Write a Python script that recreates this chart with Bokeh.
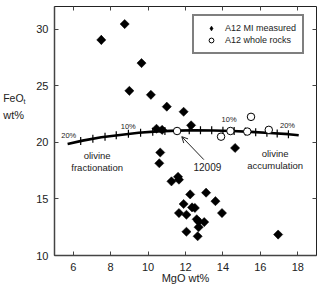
import math
from bokeh.plotting import figure
from bokeh.layouts import row
from bokeh.models import (Range1d, LinearAxis, FixedTicker, Label, Arrow, OpenHead,
                          Legend, LegendItem, ColumnDataSource)
from bokeh.core.properties import value
from bokeh.embed import file_html
from bokeh.resources import INLINE

FONT = "Liberation Sans"
INK = "#222222"

# Apollo 12 melt inclusions (measured)
mi_mgo = [7.5, 8.75, 9.65, 9.0, 10.15, 10.45, 11.0, 11.9, 12.3, 10.75, 10.65, 10.6,
          14.65, 11.25, 11.6, 11.65, 12.25, 13.1, 13.6, 11.9, 12.35, 12.5, 11.65,
          12.05, 13.95, 12.6, 12.7, 13.0, 12.7, 12.05, 12.65, 16.95]
mi_feo = [29.05, 30.45, 27.0, 24.55, 24.2, 21.2, 23.15, 22.7, 21.5, 21.1, 19.1, 18.15,
          19.5, 16.55, 16.95, 16.7, 15.4, 15.55, 14.8, 14.55, 14.25, 14.2, 13.75,
          13.6, 13.75, 13.2, 13.0, 12.95, 12.5, 12.1, 11.7, 11.85]

# Apollo 12 whole rocks (first one is 12009)
wr_mgo = [11.55, 13.9, 14.4, 15.3, 15.5, 16.45]
wr_feo = [21.0, 20.5, 21.0, 20.95, 22.25, 21.1]

# Olivine fractionation / accumulation path through 12009
curve_mgo = [5.7, 6.5, 7.5, 8.5, 9.5, 10.5, 11.55, 12.5, 13.5, 14.5, 15.5, 16.5, 17.5, 18.05]
curve_feo = [19.85, 20.15, 20.45, 20.65, 20.85, 20.97, 21.03, 21.07, 21.05, 21.0, 20.92,
             20.82, 20.72, 20.62]

# 2% olivine increments along the path
step_mgo = [6.4, 7.05, 7.7, 8.3, 8.95, 9.6, 10.25, 10.9, 12.2, 12.8, 13.4, 14.0, 14.6,
            15.2, 15.75, 16.35, 16.9, 17.5]
step_feo = [20.12, 20.32, 20.5, 20.62, 20.76, 20.85, 20.93, 20.99, 21.06, 21.07, 21.06,
            21.03, 21.0, 20.95, 20.9, 20.84, 20.78, 20.72]

# percent labels along the path
pct_text = ["20%", "10%", "10%", "20%"]
pct_mgo = [5.76, 8.94, 14.33, 17.45]
pct_feo = [20.59, 21.39, 21.98, 21.5]

x_ticks = [6, 8, 10, 12, 14, 16, 18]
y_ticks = [10, 15, 20, 25, 30]

TITLE_W = 30  # strip on the left that carries the vertical-axis title

p = figure(width=319 - TITLE_W, height=293, output_backend="svg", toolbar_location=None,
           x_range=Range1d(5, 19), y_range=Range1d(10, 32),
           min_border_left=54 - TITLE_W, min_border_right=3, min_border_top=6,
           min_border_bottom=38, background_fill_color="white", border_fill_color="white")
p.grid.visible = False
p.outline_line_color = INK
p.outline_line_width = 1

for ax, ticks in ((p.xaxis, x_ticks), (p.yaxis, y_ticks)):
    ax.ticker = FixedTicker(ticks=ticks)
    ax.major_tick_in = 4
    ax.major_tick_out = 0
    ax.minor_tick_line_color = None
    ax.axis_line_color = "#444444"
    ax.axis_line_width = 1.5
    ax.major_tick_line_color = "#444444"
    ax.major_label_text_font = FONT
    ax.major_label_text_font_size = "11px"
    ax.major_label_text_color = INK
    ax.major_label_standoff = 6

p.xaxis.major_label_standoff = 7
p.xaxis.axis_label = "MgO wt%"
p.xaxis.axis_label_text_font = FONT
p.xaxis.axis_label_text_font_size = "11px"
p.xaxis.axis_label_text_font_style = "normal"
p.xaxis.axis_label_text_color = INK
p.xaxis.axis_label_standoff = -2

# inward ticks on the top and right edges of the box (no labels there)
for place, ticks in (("above", x_ticks), ("right", y_ticks)):
    ax = LinearAxis(ticker=FixedTicker(ticks=ticks), major_tick_in=4, major_tick_out=0,
                    minor_tick_line_color=None, axis_line_color=None,
                    major_tick_line_color="#444444",
                    major_label_text_font_size="1px", major_label_text_color=None,
                    major_label_standoff=0)
    p.add_layout(ax, place)

# model path and its increment marks
p.line(curve_mgo, curve_feo, line_color="black", line_width=2.6)
p.scatter(step_mgo, step_feo, marker="dash", angle=math.pi / 2, size=8,
          line_color="black", line_width=1.2)

# diamond swatch for the legend, sitting under the first inclusion marker
r_mi_key = p.scatter(mi_mgo[:1], mi_feo[:1], marker="diamond", size=9,
                     fill_color="black", line_color="black", line_width=0.5)
p.scatter(mi_mgo, mi_feo, marker="square", angle=math.pi / 4, size=6.5,
          fill_color="black", line_color="black", line_width=0.5)
r_wr = p.scatter(wr_mgo, wr_feo, marker="circle", size=7.5,
                 fill_color="white", line_color="black", line_width=1)

src = ColumnDataSource(dict(x=pct_mgo, y=pct_feo, t=pct_text))
p.text("x", "y", text="t", source=src, text_font=value(FONT), text_font_size="7.5px",
       text_align="center", text_baseline="middle", text_color=INK)


def note(fig, x, y, s, size="9.5px", align="center"):
    fig.add_layout(Label(x=x, y=y, text=s, text_font=FONT, text_font_size=size,
                         text_align=align, text_baseline="middle", text_color=INK))


note(p, 7.28, 18.83, "olivine")
note(p, 7.28, 17.79, "fractionation")
note(p, 16.79, 18.97, "olivine")
note(p, 16.79, 17.97, "accumulation")
note(p, 13.17, 17.86, "12009", size="10px")

p.add_layout(Arrow(end=OpenHead(size=6, line_width=1, line_color=INK),
                   x_start=12.98, y_start=18.47, x_end=11.8, y_end=20.5,
                   line_width=1, line_color=INK))

legend = Legend(items=[LegendItem(label="A12 MI measured", renderers=[r_mi_key]),
                       LegendItem(label="A12 whole rocks", renderers=[r_wr])],
                location=(138, 201), border_line_color="black", border_line_width=2,
                background_fill_color="white", background_fill_alpha=1,
                label_text_font=FONT, label_text_font_size="9px", label_text_color=INK,
                padding=6, spacing=0, margin=0, label_height=12, glyph_height=12,
                glyph_width=22, label_standoff=3)
p.add_layout(legend)

# left strip: FeO(t) wt% written horizontally, in pixel coordinates (y down)
t = figure(width=TITLE_W, height=293, output_backend="svg", toolbar_location=None,
           x_range=Range1d(0, TITLE_W), y_range=Range1d(293, 0),
           x_axis_type=None, y_axis_type=None, min_border=0,
           outline_line_color=None, background_fill_color="white",
           border_fill_color="white")
t.grid.visible = False
note(t, 2.7, 107.5, "FeO", size="10.5px", align="left")
note(t, 23.0, 111.5, "t", size="7px", align="left")
note(t, 2.7, 127.7, "wt%", size="11px", align="left")

layout = row(t, p, spacing=0)
open("out.html", "w").write(file_html(layout, INLINE))
